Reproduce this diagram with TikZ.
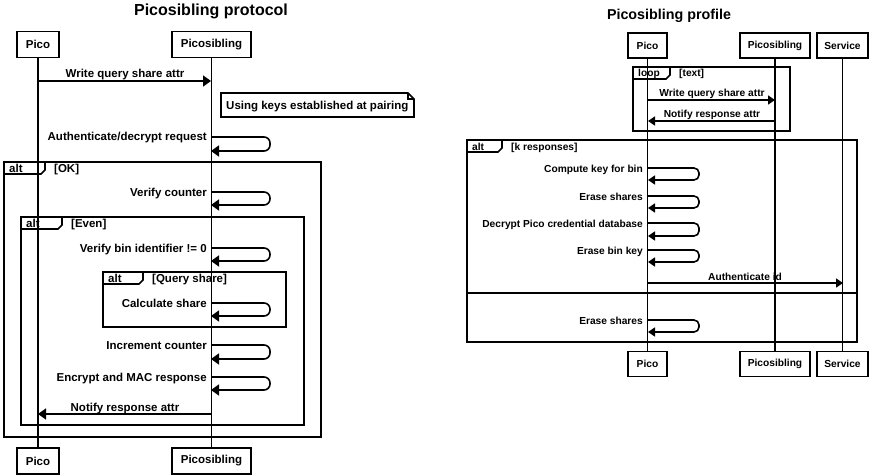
\documentclass[tikz,border=0pt]{standalone}
\usepackage{fontspec}
\setmainfont{Liberation Sans}
\usetikzlibrary{arrows.meta}
\newcommand\sqframe[8]{%
  \draw[frame] ({#2},{#3}) rectangle ({#4},{#5});
  \draw[frame] ({#2},{#3+12}) -- ({#2+#6-4},{#3+12}) -- ({#2+#6},{#3+8}) -- ({#2+#6},{#3});
  \node[tabtext, anchor=base west] (#1k) at ({#2+5},{#3+10}) {#7};
  \node[tabtext, anchor=base west] (#1g) at ({#2+#6+9},{#3+10}) {#8};
}
\begin{document}
\begin{tikzpicture}[x=1pt,y=-1pt,
  lfont/.style={font=\bfseries\fontsize{11.5}{13}\selectfont},
  rfont/.style={font=\bfseries\fontsize{10.2}{12}\selectfont},
  actorL/.style={draw, line width=1.6pt, minimum height=26pt, inner sep=0pt, lfont},
  actorR/.style={draw, line width=1.6pt, minimum height=25pt, inner sep=0pt, rfont},
  life/.style={line width=1.9pt},
  frame/.style={line width=1.6pt},
  msgL/.style={line width=1.6pt, -{Triangle[length=8pt,width=11pt]}},
  msgR/.style={line width=1.6pt, -{Triangle[length=7pt,width=9pt]}},
  selfL/.style={msgL, rounded corners=6pt},
  selfR/.style={msgR, rounded corners=5pt},
  tabtext/.style={lfont, inner sep=0pt},
  labL/.style={lfont, inner sep=0pt},
  labR/.style={rfont, inner sep=0pt},
]
\useasboundingbox (0,0) rectangle (870,476);

% ================= LEFT: Picosibling protocol =================
\node[font=\bfseries\fontsize{16}{18}\selectfont, anchor=base] (t1) at (211,16) {Picosibling protocol};

\node[actorL, minimum width=42pt] (pH) at (38,44.5) {Pico};
\node[actorL, minimum width=79pt] (sH) at (211.5,44.5) {Picosibling};
\node[actorL, minimum width=42pt] (pF) at (38,461) {Pico};
\node[actorL, minimum width=79pt] (sF) at (211.5,461) {Picosibling};
\draw[life] (pH.south) -- (pF.north);
\draw[life] (sH.south) -- (sF.north);

% frames
\sqframe{fOK}{4}{162}{321}{437}{41}{alt}{[OK]}
\sqframe{fEv}{21}{217}{304}{425}{41}{alt}{[Even]}
\sqframe{fQs}{103}{272}{286}{327}{40}{alt}{[Query share]}

% note
\draw[frame, fill=white] (221,93) -- (408,93) -- (414,99) -- (414,117) -- (221,117) -- cycle;
\draw[frame] (408,93) -- (408,99) -- (414,99);
\node[labL, anchor=base west] (note) at (226,110) {Using keys established at pairing};

% messages
\coordinate (m1a) at (38,81);  \coordinate (m1b) at (211,81);
\draw[msgL] (m1a) -- (m1b);
\node[labL, anchor=base] (m1l) at (125,78) {Write query share attr};

\coordinate (s1a) at (211,137); \coordinate (s1b) at (211,151);
\draw[selfL] (s1a) -- (270,137) -- (270,151) -- (s1b);
\node[labL, anchor=base east] (s1l) at (207,141) {Authenticate/decrypt request};

\coordinate (s2a) at (211,192); \coordinate (s2b) at (211,205);
\draw[selfL] (s2a) -- (270,192) -- (270,205) -- (s2b);
\node[labL, anchor=base east] (s2l) at (207,196) {Verify counter};

\coordinate (s3a) at (211,248); \coordinate (s3b) at (211,261);
\draw[selfL] (s3a) -- (270,248) -- (270,261) -- (s3b);
\node[labL, anchor=base east] (s3l) at (207,252) {Verify bin identifier != 0};

\coordinate (s4a) at (211,303); \coordinate (s4b) at (211,316);
\draw[selfL] (s4a) -- (270,303) -- (270,316) -- (s4b);
\node[labL, anchor=base east] (s4l) at (207,307) {Calculate share};

\coordinate (s5a) at (211,345); \coordinate (s5b) at (211,359);
\draw[selfL] (s5a) -- (270,345) -- (270,359) -- (s5b);
\node[labL, anchor=base east] (s5l) at (207,349) {Increment counter};

\coordinate (s6a) at (211,377); \coordinate (s6b) at (211,390);
\draw[selfL] (s6a) -- (270,377) -- (270,390) -- (s6b);
\node[labL, anchor=base east] (s6l) at (207,381) {Encrypt and MAC response};

\coordinate (m2a) at (211,414); \coordinate (m2b) at (38,414);
\draw[msgL] (m2a) -- (m2b);
\node[labL, anchor=base] (m2l) at (125,411) {Notify response attr};

% ================= RIGHT: Picosibling profile =================
\begin{scope}[tabtext/.style={rfont, inner sep=0pt}]
\node[font=\bfseries\fontsize{14.3}{16}\selectfont, anchor=base] (t2) at (669,20) {Picosibling profile};

\node[actorR, minimum width=39pt] (rpH) at (647.5,45.5) {Pico};
\node[actorR, minimum width=70pt] (rsH) at (775,45.5) {Picosibling};
\node[actorR, minimum width=51pt] (rvH) at (842.5,45.5) {Service};
\node[actorR, minimum width=39pt] (rpF) at (647.5,364) {Pico};
\node[actorR, minimum width=70pt] (rsF) at (775,364) {Picosibling};
\node[actorR, minimum width=51pt] (rvF) at (842.5,364) {Service};
\draw[life] (rpH.south) -- (rpF.north);
\draw[life] (rsH.south) -- (rsF.north);
\draw[life] (rvH.south) -- (rvF.north);

\sqframe{fLp}{633}{67}{790}{131}{37}{loop}{[text]}
\sqframe{fKr}{467}{140}{857}{342}{35}{alt}{[k responses]}
\draw[frame] (467,293) -- (857,293);

\coordinate (r1a) at (648,100); \coordinate (r1b) at (775,100);
\draw[msgR] (r1a) -- (r1b);
\node[labR, anchor=base] (r1l) at (712,97) {Write query share attr};

\coordinate (r2a) at (775,121); \coordinate (r2b) at (648,121);
\draw[msgR] (r2a) -- (r2b);
\node[labR, anchor=base] (r2l) at (712,118) {Notify response attr};

\coordinate (q1a) at (648,168); \coordinate (q1b) at (648,180);
\draw[selfR] (q1a) -- (699,168) -- (699,180) -- (q1b);
\node[labR, anchor=base east] (q1l) at (643,172) {Compute key for bin};

\coordinate (q2a) at (648,196); \coordinate (q2b) at (648,208);
\draw[selfR] (q2a) -- (699,196) -- (699,208) -- (q2b);
\node[labR, anchor=base east] (q2l) at (643,200) {Erase shares};

\coordinate (q3a) at (648,223); \coordinate (q3b) at (648,236);
\draw[selfR] (q3a) -- (699,223) -- (699,236) -- (q3b);
\node[labR, anchor=base east] (q3l) at (643,227) {Decrypt Pico credential database};

\coordinate (q4a) at (648,250); \coordinate (q4b) at (648,262);
\draw[selfR] (q4a) -- (699,250) -- (699,262) -- (q4b);
\node[labR, anchor=base east] (q4l) at (643,254) {Erase bin key};

\coordinate (r3a) at (648,283); \coordinate (r3b) at (843,283);
\draw[msgR] (r3a) -- (r3b);
\node[labR, anchor=base] (r3l) at (745,280) {Authenticate id};

\coordinate (q5a) at (648,320); \coordinate (q5b) at (648,332);
\draw[selfR] (q5a) -- (699,320) -- (699,332) -- (q5b);
\node[labR, anchor=base east] (q5l) at (643,324) {Erase shares};
\end{scope}
\end{tikzpicture}
\end{document}
